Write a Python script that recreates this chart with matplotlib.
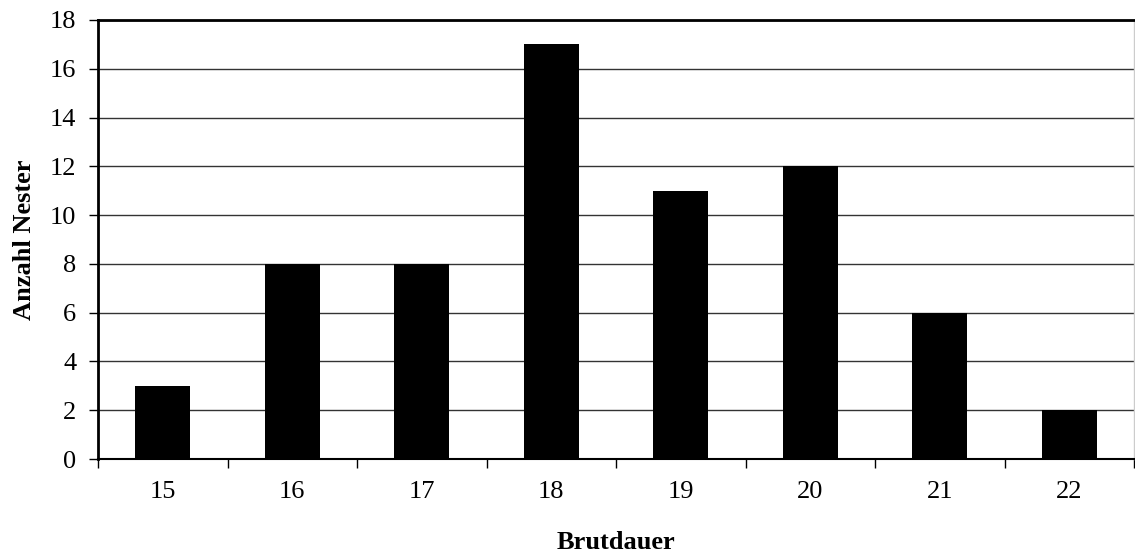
import matplotlib.pyplot as plt
import numpy as np

plt.rcParams['font.family'] = ['Liberation Serif', 'DejaVu Serif']

# Brutdauer (Tage) und Anzahl der Nester
brutdauer = ['15', '16', '17', '18', '19', '20', '21', '22']
nester = [3, 8, 8, 17, 11, 12, 6, 2]

fig = plt.figure(figsize=(11.35, 5.58), dpi=100)
ax = fig.add_axes([98 / 1135, 99 / 558, 1036 / 1135, 439 / 558])

x = np.arange(len(brutdauer))
ax.bar(x, nester, width=0.425, color='black', zorder=3)

ax.set_xlim(-0.5, len(brutdauer) - 0.5)
ax.set_ylim(0, 18)
ax.set_yticks(np.arange(0, 19, 2))
ax.yaxis.grid(True, color='#333333', linewidth=1.0, zorder=0)

# category labels centred, tick marks between categories
ax.set_xticks(np.arange(-0.5, len(brutdauer)), labels=[''] * (len(brutdauer) + 1))
ax.set_xticks(x, labels=brutdauer, minor=True)
ax.tick_params(axis='x', which='minor', length=0, pad=16, labelsize=19)
ax.tick_params(axis='x', which='major', length=6.5, width=1.0, direction='out')
ax.tick_params(axis='y', length=6.5, width=1.0, direction='out', pad=9, labelsize=19)

ax.spines['left'].set_linewidth(2.0)
ax.spines['bottom'].set_linewidth(1.5)
ax.spines['top'].set_linewidth(2.0)
ax.spines['right'].set_color('#cccccc')
ax.spines['right'].set_linewidth(1.0)

ax.set_xlabel('Brutdauer', fontsize=19, fontweight='bold', labelpad=20)
ax.set_ylabel('Anzahl Nester', fontsize=19, fontweight='bold', labelpad=10)

fig.savefig('out.png', dpi=100)
